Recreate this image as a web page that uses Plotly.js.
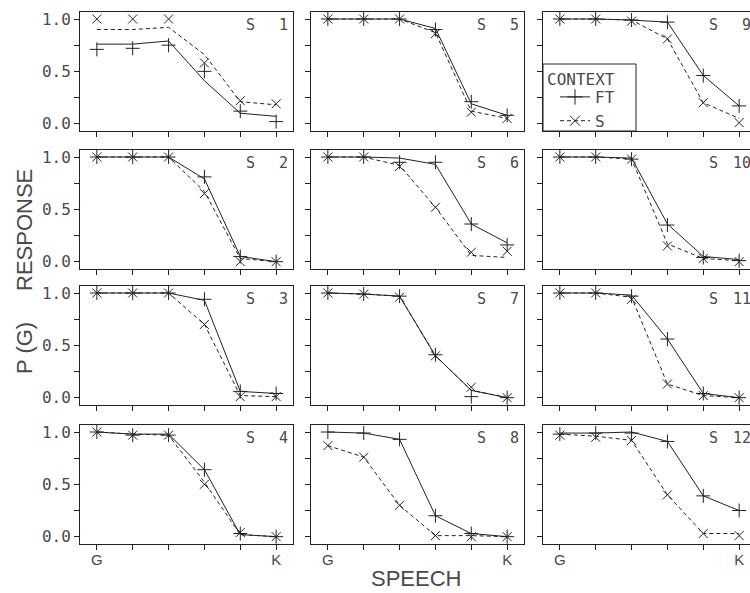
<!DOCTYPE html>
<html>
<head>
<meta charset="utf-8">
<script src="https://cdn.plot.ly/plotly-3.0.1.min.js"></script>
<style>
html, body { margin:0; padding:0; overflow:hidden; background:#fff; }
#chart { width:770px; height:593px; }
</style>
</head>
<body>
<div id="chart"></div>
<script>
// ---------- data ----------
const levels = [1, 2, 3, 4, 5, 6];
const levelLabels = ['G', '', '', '', '', 'K'];
const subjects = [1, 2, 3, 4, 5, 6, 7, 8, 9, 10, 11, 12];
const contexts = ['FT', 'S'];

// observed proportions (markers)
const ftObserved = [
  [0.71, 0.72, 0.75, 0.50, 0.12, 0.02],
  [1.00, 1.00, 1.00, 0.81, 0.05, 0.00],
  [1.00, 1.00, 1.00, 0.94, 0.06, 0.04],
  [1.00, 0.97, 0.97, 0.64, 0.03, 0.00],
  [1.00, 1.00, 1.00, 0.90, 0.21, 0.08],
  [1.00, 1.00, 0.95, 0.95, 0.36, 0.16],
  [1.00, 0.99, 0.97, 0.41, 0.01, 0.00],
  [1.00, 0.99, 0.93, 0.20, 0.03, 0.00],
  [1.00, 1.00, 0.99, 0.97, 0.46, 0.17],
  [1.00, 1.00, 0.98, 0.35, 0.04, 0.01],
  [1.00, 1.00, 0.97, 0.56, 0.04, 0.00],
  [0.98, 0.99, 0.99, 0.91, 0.39, 0.25]
];
const sObserved = [
  [1.00, 1.00, 1.00, 0.58, 0.22, 0.19],
  [1.00, 1.00, 1.00, 0.65, 0.00, 0.00],
  [1.00, 1.00, 1.00, 0.70, 0.01, 0.01],
  [1.00, 0.97, 0.97, 0.50, 0.04, 0.00],
  [1.00, 1.00, 1.00, 0.86, 0.11, 0.05],
  [1.00, 1.00, 0.91, 0.52, 0.09, 0.10],
  [1.00, 0.99, 0.96, 0.40, 0.10, 0.00],
  [0.87, 0.76, 0.30, 0.01, 0.00, 0.00],
  [1.00, 1.00, 0.98, 0.81, 0.20, 0.01],
  [1.00, 1.00, 0.98, 0.15, 0.03, 0.00],
  [1.00, 1.00, 0.94, 0.13, 0.02, 0.00],
  [0.97, 0.95, 0.92, 0.40, 0.03, 0.01]
];
// predicted proportions (lines)
const ftPredicted = [
  [0.76, 0.76, 0.79, 0.41, 0.10, 0.07],
  [1.00, 1.00, 1.00, 0.79, 0.05, 0.00],
  [1.00, 1.00, 1.00, 0.93, 0.06, 0.04],
  [1.00, 0.98, 0.98, 0.64, 0.02, 0.00],
  [1.00, 1.00, 1.00, 0.91, 0.19, 0.08],
  [1.00, 1.00, 0.99, 0.93, 0.36, 0.18],
  [1.00, 0.99, 0.97, 0.40, 0.07, 0.00],
  [1.00, 0.99, 0.93, 0.20, 0.03, 0.00],
  [1.00, 1.00, 0.99, 0.97, 0.46, 0.17],
  [1.00, 1.00, 0.99, 0.36, 0.05, 0.02],
  [1.00, 1.00, 0.98, 0.56, 0.04, 0.00],
  [0.99, 0.99, 1.00, 0.91, 0.39, 0.25]
];
const sPredicted = [
  [0.90, 0.90, 0.92, 0.66, 0.21, 0.18],
  [1.00, 1.00, 1.00, 0.67, 0.03, 0.00],
  [1.00, 1.00, 1.00, 0.70, 0.02, 0.01],
  [1.00, 0.98, 0.97, 0.52, 0.02, 0.00],
  [1.00, 1.00, 1.00, 0.87, 0.12, 0.05],
  [1.00, 1.00, 0.92, 0.52, 0.06, 0.04],
  [1.00, 0.99, 0.97, 0.40, 0.07, 0.00],
  [0.87, 0.76, 0.30, 0.01, 0.01, 0.00],
  [1.00, 1.00, 0.99, 0.81, 0.20, 0.05],
  [1.00, 1.00, 0.98, 0.17, 0.03, 0.01],
  [1.00, 1.00, 0.96, 0.13, 0.02, 0.00],
  [0.98, 0.96, 0.92, 0.40, 0.03, 0.03]
];
const yTickVals = [0, 0.25, 0.5, 0.75, 1];
const yTickText = ['0.0', '', '0.5', '', '1.0'];

// ---------- layout geometry (pixels) ----------
const W = 770, H = 593;
const colLeft = [80, 311, 543];
const colWidth = 213;
const rowTop = [12, 150, 286, 425];
const rowHeight = 119;

const INK = '#222';
const TXT = '#4a4a4a';
const MONO = 'DejaVu Sans Mono, monospace';
const SANS = 'Liberation Sans, Arial, sans-serif';

const traces = [];
const layout = {
  width: W, height: H,
  margin: {l: 0, r: 0, t: 0, b: 0},
  paper_bgcolor: '#fff', plot_bgcolor: '#fff',
  showlegend: true,
  legend: {
    x: 555 / W, y: 1 - 80 / H, xanchor: 'left', yanchor: 'top',
    bgcolor: 'rgba(0,0,0,0)', borderwidth: 0,
    font: {family: MONO, size: 16, color: TXT},
    itemwidth: 30, tracegroupgap: 0
  },
  shapes: [{
    type: 'rect', xref: 'paper', yref: 'paper', layer: 'above',
    x0: 543 / W, x1: 636 / W, y0: 1 - 131 / H, y1: 1 - 64 / H,
    fillcolor: '#fff', line: {color: INK, width: 1}
  }],
  annotations: [{
    xref: 'paper', yref: 'paper', x: 545 / W, y: 1 - 79 / H,
    xanchor: 'left', yanchor: 'middle', text: 'CONTEXT', showarrow: false,
    font: {family: MONO, size: 16, color: TXT}
  }]
};

subjects.forEach((s, i) => {
  const col = Math.floor(i / 4), row = i % 4;
  const n = i + 1;
  const xa = 'x' + (n === 1 ? '' : n), ya = 'y' + (n === 1 ? '' : n);
  const left = colLeft[col], top = rowTop[row];
  const axisCommon = {
    showline: true, mirror: true, linecolor: INK, linewidth: 1,
    ticks: 'outside', ticklen: 5, tickwidth: 1, tickcolor: INK,
    showgrid: false, zeroline: false, fixedrange: true
  };
  layout['xaxis' + (n === 1 ? '' : n)] = Object.assign({}, axisCommon, {
    domain: [left / W, (left + colWidth) / W],
    range: [0.53, 6.47],
    anchor: ya,
    tickmode: 'array', tickvals: levels, ticktext: levelLabels,
    showticklabels: row === 3,
    ticklabelstandoff: -3,
    tickfont: {family: SANS, size: 15, color: TXT}
  });
  layout['yaxis' + (n === 1 ? '' : n)] = Object.assign({}, axisCommon, {
    domain: [1 - (top + rowHeight) / H, 1 - top / H],
    range: [-0.07, 1.067],
    anchor: xa,
    tickmode: 'array', tickvals: yTickVals, ticktext: yTickText,
    showticklabels: col === 0,
    tickfont: {family: MONO, size: 16, color: TXT}
  });

  traces.push({
    x: levels, y: sPredicted[i], xaxis: xa, yaxis: ya, mode: 'lines',
    line: {color: INK, width: 1, dash: '4px,3px'}, showlegend: false, hoverinfo: 'skip'
  });
  traces.push({
    x: levels, y: ftPredicted[i], xaxis: xa, yaxis: ya, mode: 'lines',
    line: {color: INK, width: 1}, showlegend: false, hoverinfo: 'skip'
  });
  traces.push({
    x: levels, y: sObserved[i], xaxis: xa, yaxis: ya, mode: 'markers', cliponaxis: false,
    marker: {symbol: 'x-thin-open', size: 9, color: INK, line: {color: INK, width: 1}},
    showlegend: false
  });
  traces.push({
    x: levels, y: ftObserved[i], xaxis: xa, yaxis: ya, mode: 'markers', cliponaxis: false,
    marker: {symbol: 'cross-thin-open', size: 10, color: INK, line: {color: INK, width: 1}},
    showlegend: false
  });

  layout.annotations.push({
    xref: 'paper', yref: 'paper', x: (left + 170) / W, y: 1 - (top + 13) / H,
    xanchor: 'center', yanchor: 'middle', text: 'S', showarrow: false,
    font: {family: MONO, size: 15, color: TXT}
  });
  layout.annotations.push({
    xref: 'paper', yref: 'paper', x: (left + 210) / W, y: 1 - (top + 13) / H,
    xanchor: 'right', yanchor: 'middle', text: String(s), showarrow: false,
    font: {family: MONO, size: 15, color: TXT}
  });
});

// legend samples
traces.push({
  x: [null], y: [null], name: contexts[0], mode: 'lines+markers', showlegend: true,
  line: {color: INK, width: 1},
  marker: {symbol: 'cross-thin-open', size: 11, color: INK, line: {color: INK, width: 1}}
});
traces.push({
  x: [null], y: [null], name: contexts[1], mode: 'lines+markers', showlegend: true,
  line: {color: INK, width: 1, dash: '4px,3px'},
  marker: {symbol: 'x-thin-open', size: 10, color: INK, line: {color: INK, width: 1}}
});

// axis titles
layout.annotations.push({
  xref: 'paper', yref: 'paper', x: 416 / W, y: 1 - 578 / H,
  xanchor: 'center', yanchor: 'middle', text: 'SPEECH', showarrow: false,
  font: {family: SANS, size: 22, color: TXT}
});
layout.annotations.push({
  xref: 'paper', yref: 'paper', x: 24 / W, y: 1 - 230 / H, textangle: -90,
  xanchor: 'center', yanchor: 'middle', text: 'RESPONSE', showarrow: false,
  font: {family: SANS, size: 22, color: TXT}
});
layout.annotations.push({
  xref: 'paper', yref: 'paper', x: 24 / W, y: 1 - 348 / H, textangle: -90,
  xanchor: 'center', yanchor: 'middle', text: 'P (G)', showarrow: false,
  font: {family: SANS, size: 22, color: TXT}
});

Plotly.newPlot('chart', traces, layout, {displayModeBar: false, staticPlot: true});
</script>
</body>
</html>
